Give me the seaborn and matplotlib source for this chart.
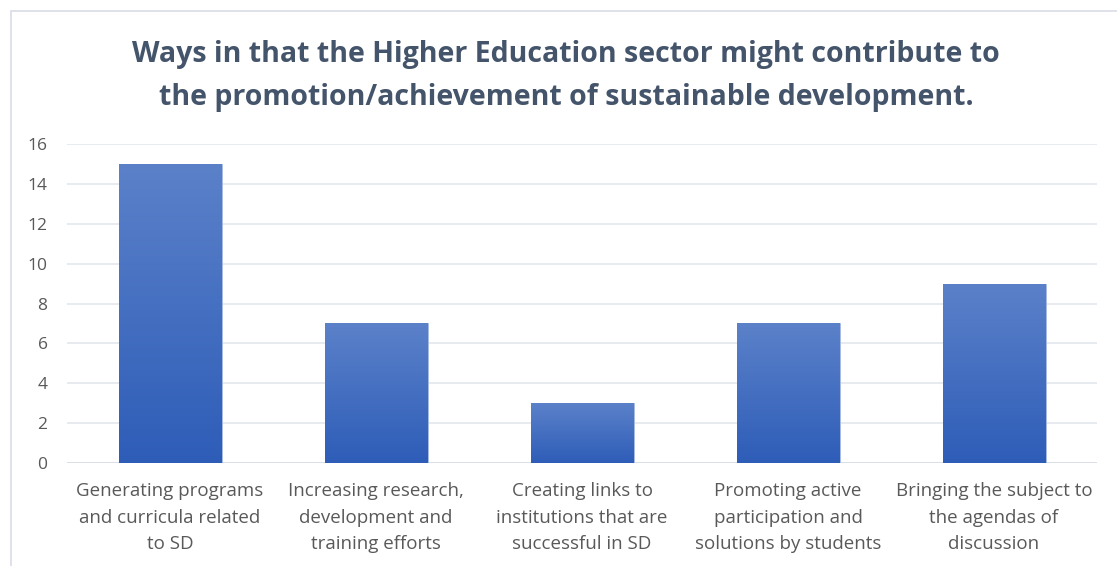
import numpy as np
import pandas as pd
import matplotlib
matplotlib.use("Agg")
import matplotlib.pyplot as plt
from matplotlib.colors import LinearSegmentedColormap
from matplotlib.patches import Rectangle
import seaborn as sns

categories = [
    "Generating programs\nand curricula related\nto SD",
    "Increasing research,\ndevelopment and\ntraining efforts",
    "Creating links to\ninstitutions that are\nsuccessful in SD",
    "Promoting active\nparticipation and\nsolutions by students",
    "Bringing the subject to\nthe agendas of\ndiscussion",
]
counts = [15, 7, 3, 7, 9]
yticks = [0, 2, 4, 6, 8, 10, 12, 14, 16]
title = ("Ways in that the Higher Education sector might contribute to\n"
         "the promotion/achievement of sustainable development.")

df = pd.DataFrame({"category": categories, "count": counts})

sns.set_theme(style="white")
plt.rcParams["font.family"] = ["Open Sans", "DejaVu Sans"]

fig = plt.figure(figsize=(11.17, 5.66), dpi=100)
ax = fig.add_axes([67 / 1117, 103 / 566, 1030 / 1117, 319 / 566])

sns.barplot(data=df, x="category", y="count", ax=ax, width=0.5,
            color="#4472C4", saturation=1, zorder=2)

# vertical gradient fill for each bar
grad = LinearSegmentedColormap.from_list("bar", ["#2E5DB8", "#5B81C9"])
gimg = np.linspace(0, 1, 256).reshape(-1, 1)
for p in ax.patches:
    x0, y0 = p.get_x(), p.get_y()
    w, h = p.get_width(), p.get_height()
    im = ax.imshow(gimg, cmap=grad, origin="lower", aspect="auto",
                   extent=[x0, x0 + w, y0, y0 + h], zorder=3)
    im.set_clip_path(p)
    p.set_edgecolor("#A9BCE3")
    p.set_linewidth(0.6)

ax.set_xlim(-0.5, len(categories) - 0.5)
ax.set_ylim(0, 16)
ax.set_yticks(yticks)
ax.set_yticklabels([str(v) for v in yticks])
ax.yaxis.grid(True, color="#E3E6EC", linewidth=1.2, zorder=0)
ax.set_axisbelow(True)
for s in ax.spines.values():
    s.set_visible(False)
ax.axhline(0, color="#D9DCE3", linewidth=1.2, zorder=1)
ax.set_xlabel("")
ax.set_ylabel("")
ax.tick_params(axis="y", length=0, pad=14, labelsize=12.5, labelcolor="#595959")
ax.tick_params(axis="x", length=0, pad=14, labelsize=13.5, labelcolor="#595959")
for lbl in ax.get_xticklabels():
    lbl.set_linespacing(1.6)

fig.text(566 / 1117, 1 - 76 / 566, title, ha="center", va="center",
         fontsize=20.5, fontweight="bold", color="#44546A", linespacing=1.6)

# chart frame
fig.patches.append(Rectangle((11 / 1117, -0.05), 1.2, 1 - 11 / 566 + 0.05,
                             transform=fig.transFigure, fill=False,
                             edgecolor="#D9DDE6", linewidth=1.2))

fig.savefig("out.png", dpi=100, facecolor="white")
